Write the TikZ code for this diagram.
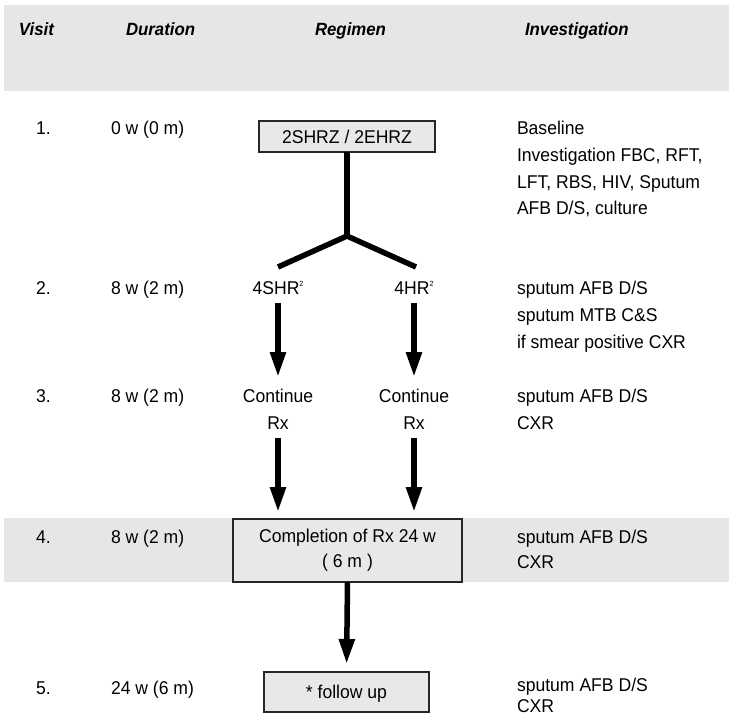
\documentclass[tikz,border=0pt]{standalone}
\usepackage{fontspec}
\setmainfont[FakeStretch=0.95]{Liberation Sans}
\usetikzlibrary{arrows.meta}
\definecolor{bandgray}{RGB}{230,230,230}
\definecolor{boxgray}{RGB}{232,232,232}
\newcommand\twosup{\raisebox{8pt}{\fontsize{7.5}{7.5}\selectfont 2}}
\begin{document}
\begin{tikzpicture}[x=1pt,y=-1pt,
  every node/.style={outer sep=0pt},
  txt/.style={inner sep=0pt, font=\fontsize{18.5}{25}\selectfont, text=black},
  hd/.style={inner sep=0pt, anchor=base west, font=\fontsize{17.7}{20}\selectfont\bfseries\itshape},
  lbl/.style={txt, anchor=base west},
  lane/.style={txt, text height=13.2pt, text depth=0pt},
  flowbox/.style={txt, draw=black!85, line width=1.1pt, fill=boxgray, align=center},
  thickline/.style={line width=5.5pt, black},
  arr/.style={thickline, -{Triangle[length=25pt,width=15pt]}}
]
\useasboundingbox (0,0) rectangle (729,715);
% bands
\fill[bandgray] (4,5) rectangle (729,91);
\fill[bandgray] (4,518) rectangle (729,582);
% header
\node[hd] (hvisit) at (19,35.3) {Visit};
\node[hd] (hdur) at (126,35.3) {Duration};
\node[hd] (hreg) at (315,35.3) {Regimen};
\node[hd] (hinv) at (525,35.3) {Investigation};
% row 1
\node[lbl] (n1) at (36,134.6) {1.};
\node[lbl] (d1) at (111,134.6) {0 w (0 m)};
\node[flowbox, minimum width=176pt, minimum height=31pt, text height=13.2pt, text depth=0pt] (b1) at (347,136.5) {2SHRZ / 2EHRZ};
\node[lbl] (i1a) at (517,134.6) {Baseline};
\node[lbl] (i1b) at (517,161.3) {Investigation FBC, RFT,};
\node[lbl] (i1c) at (517,188) {LFT, RBS, HIV, Sputum};
\node[lbl] (i1d) at (517,214.7) {AFB D/S, culture};
% row 2
\node[lbl] (n2) at (36,294.6) {2.};
\node[lbl] (d2) at (111,294.6) {8 w (2 m)};
\node[lane] (l2a) at (278,288) {4SHR\twosup};
\node[lane] (l2b) at (414,288) {4HR\twosup};
\node[lbl] (i2a) at (517,294.6) {sputum AFB D/S};
\node[lbl] (i2b) at (517,321.3) {sputum MTB C\&S};
\node[lbl] (i2c) at (517,348) {if smear positive CXR};
% row 3
\node[lbl] (n3) at (36,402.6) {3.};
\node[lbl] (d3) at (111,402.6) {8 w (2 m)};
\node[lane] (l3a) at (278,396) {Continue};
\node[lane] (l3ar) at (278,423) {Rx};
\node[lane] (l3b) at (414,396) {Continue};
\node[lane] (l3br) at (414,423) {Rx};
\node[lbl] (i3a) at (517,402.6) {sputum AFB D/S};
\node[lbl] (i3b) at (517,429.3) {CXR};
% row 4
\node[lbl] (n4) at (36,543.6) {4.};
\node[lbl] (d4) at (111,543.6) {8 w (2 m)};
\node[flowbox, minimum width=229pt, minimum height=63pt, inner sep=0pt] (comp) at (347.5,550.5) {Completion of Rx 24 w\\( 6 m )};
\node[lbl] (i4a) at (517,543.6) {sputum AFB D/S};
\node[lbl] (i4b) at (517,568.6) {CXR};
% row 5
\node[lbl] (n5) at (36,694.6) {5.};
\node[lbl] (d5) at (111,694.6) {24 w (6 m)};
\node[flowbox, minimum width=165pt, minimum height=40pt, inner sep=0pt, text height=13.2pt, text depth=0pt] (fup) at (346.5,692) {* follow up};
\node[lbl] (i5a) at (517,691) {sputum AFB D/S};
\node[lbl] (i5b) at (517,712.5) {CXR};
% branch
\coordinate (jn) at (347,236);
\coordinate (bl) at (278,267);
\coordinate (br) at (416,267);
\draw[thickline] (b1.south) -- (jn);
\draw[thickline, line join=miter] (bl) -- (jn) -- (br);
% arrows
\draw[arr, shorten <=8.4pt, shorten >=12.4pt] (l2a) -- (l3a);
\draw[arr, shorten <=8.4pt, shorten >=12.4pt] (l2b) -- (l3b);
\draw[arr, shorten <=8.4pt, shorten >=7pt] (l3ar.south) -- (l3ar.south |- comp.north);
\draw[arr, shorten <=8.4pt, shorten >=7pt] (l3br.south) -- (l3br.south |- comp.north);
\draw[arr, shorten >=8pt] (comp.south) -- (fup.north);
\end{tikzpicture}
\end{document}
